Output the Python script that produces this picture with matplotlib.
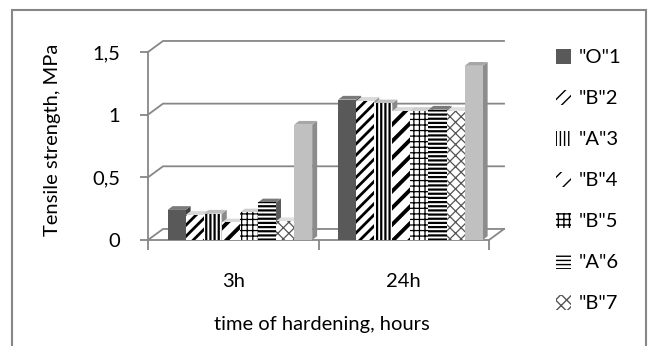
import matplotlib
matplotlib.use("Agg")
import matplotlib.pyplot as plt
from matplotlib.patches import Polygon, Patch, Rectangle

plt.rcParams["font.family"] = ["Lato", "DejaVu Sans"]

# ---- data -------------------------------------------------------------
categories = ["3h", "24h"]
series_labels = ['"O"1', '"B"2', '"A"3', '"B"4', '"B"5', '"A"6', '"B"7']

o1 = [0.24, 1.12]
b2 = [0.20, 1.11]
a3 = [0.21, 1.09]
b4 = [0.14, 1.03]
b5 = [0.22, 1.03]
a6 = [0.30, 1.04]
b7 = [0.15, 1.03]
s8 = [0.92, 1.39]

y_ticks = [0, 0.5, 1, 1.5]
y_tick_labels = ["0", "0,5", "1", "1,5"]

# ---- styling ----------------------------------------------------------
series = [o1, b2, a3, b4, b5, a6, b7, s8]
styles = [
    dict(fc="#595959", hc="#595959", hatch=None, hlw=1.0, top="#7a7a7a", side="#3e3e3e"),
    dict(fc="white", hc="black", hatch="///", hlw=2.0, top="#d9d9d9", side="#9a9a9a"),
    dict(fc="white", hc="black", hatch="||||", hlw=1.6, top="#bfbfbf", side="#8a8a8a"),
    dict(fc="white", hc="black", hatch="//", hlw=2.8, top="#d9d9d9", side="#9a9a9a"),
    dict(fc="white", hc="black", hatch="+++", hlw=0.9, top="#cfcfcf", side="#9a9a9a"),
    dict(fc="white", hc="black", hatch="----", hlw=1.6, top="#7a7a7a", side="#5a5a5a"),
    dict(fc="white", hc="#555555", hatch="xxx", hlw=0.9, top="#e0e0e0", side="#b0b0b0"),
    dict(fc="#c0c0c0", hc="#c0c0c0", hatch=None, hlw=1.0, top="#a6a6a6", side="#8c8c8c"),
]

GRID = "#878787"
W = 0.106            # bar width (category units)
SHIFT = 0.039        # cluster offset toward the back wall
DX, DY = 0.029, 0.030        # bar depth (x, y data units)
WX, WY = 0.088, 0.088        # wall depth (x, y data units)

fig = plt.figure(figsize=(6.54, 3.46), dpi=100)
ax = fig.add_axes([148 / 654, 106 / 346, 341 / 654, 188 / 346])
ax.set_xlim(-0.5, 1.5)
ax.set_ylim(0, 1.5)

# back wall gridlines with their diagonal links to the front axis
for y in y_ticks:
    ax.plot([-0.5, -0.5 + WX, 1.5 + WX], [y, y + WY, y + WY],
            color=GRID, lw=1.3, clip_on=False, zorder=1)
ax.plot([1.5, 1.5 + WX], [0, WY], color=GRID, lw=1.3, clip_on=False, zorder=1)

# pseudo-3D clustered columns
n = len(series)
for i, (vals, st) in enumerate(zip(series, styles)):
    xs = [c + SHIFT + (i - (n - 1) / 2) * W for c in range(len(categories))]
    plt.rcParams["hatch.linewidth"] = st["hlw"]
    bars = ax.bar(xs, vals, width=W, facecolor=st["fc"], edgecolor=st["hc"],
                  hatch=st["hatch"], linewidth=0, zorder=3 + 2 * i + 1)
    for b in bars:
        if hasattr(b, "set_hatch_linewidth"):
            b.set_hatch_linewidth(st["hlw"])
        x0 = b.get_x()
        x1 = x0 + b.get_width()
        h = b.get_height()
        side = Polygon([(x1, 0), (x1 + DX, DY), (x1 + DX, h + DY), (x1, h)],
                       closed=True, facecolor=st["side"], edgecolor="none",
                       zorder=3 + 2 * i, clip_on=False)
        top = Polygon([(x0, h), (x0 + DX, h + DY), (x1 + DX, h + DY), (x1, h)],
                      closed=True, facecolor=st["top"], edgecolor="none",
                      zorder=3 + 2 * i, clip_on=False)
        ax.add_patch(side)
        ax.add_patch(top)

# axes
for s in ("top", "right"):
    ax.spines[s].set_visible(False)
for s in ("left", "bottom"):
    ax.spines[s].set_color(GRID)
    ax.spines[s].set_linewidth(1.3)
ax.set_facecolor("none")

ax.set_yticks(y_ticks)
ax.set_yticklabels(y_tick_labels)
ax.tick_params(axis="y", direction="out", length=6, width=1.3, color=GRID,
               labelsize=14.5, labelcolor="black", pad=14)

ax.set_xticks([-0.5, 0.5, 1.5])
ax.set_xticklabels([])
ax.tick_params(axis="x", which="major", direction="out", length=7, width=1.3, color=GRID)
ax.set_xticks([0, 1], minor=True)
ax.set_xticklabels(categories, minor=True)
ax.tick_params(axis="x", which="minor", length=0, labelsize=14.5, labelcolor="black", pad=24)

ax.set_ylabel("Tensile strength, MPa", fontsize=14.5, color="black")
ax.yaxis.set_label_coords(-0.255, 0.535)
ax.set_xlabel("time of hardening, hours", fontsize=14.5, color="black")
ax.xaxis.set_label_coords(0.51, -0.405)

# legend
handles = []
for st, lab in zip(styles[:7], series_labels):
    p = Patch(facecolor=st["fc"], edgecolor=st["hc"], hatch=st["hatch"],
              linewidth=0, label=lab)
    handles.append(p)
fig.legend(handles=handles, loc="upper left", bbox_to_anchor=(556 / 654, 1 - 49 / 346),
           frameon=False, fontsize=14.5, handlelength=0.75, handleheight=0.75,
           handletextpad=0.4, labelspacing=1.17, borderaxespad=0, borderpad=0)

# outer chart border
fig.patches.append(Rectangle((12 / 654, -0.05), (646 - 12) / 654, 1.05 - 10 / 346,
                             transform=fig.transFigure, fill=False,
                             edgecolor=GRID, linewidth=1.5))

fig.savefig("out.png", dpi=100)
